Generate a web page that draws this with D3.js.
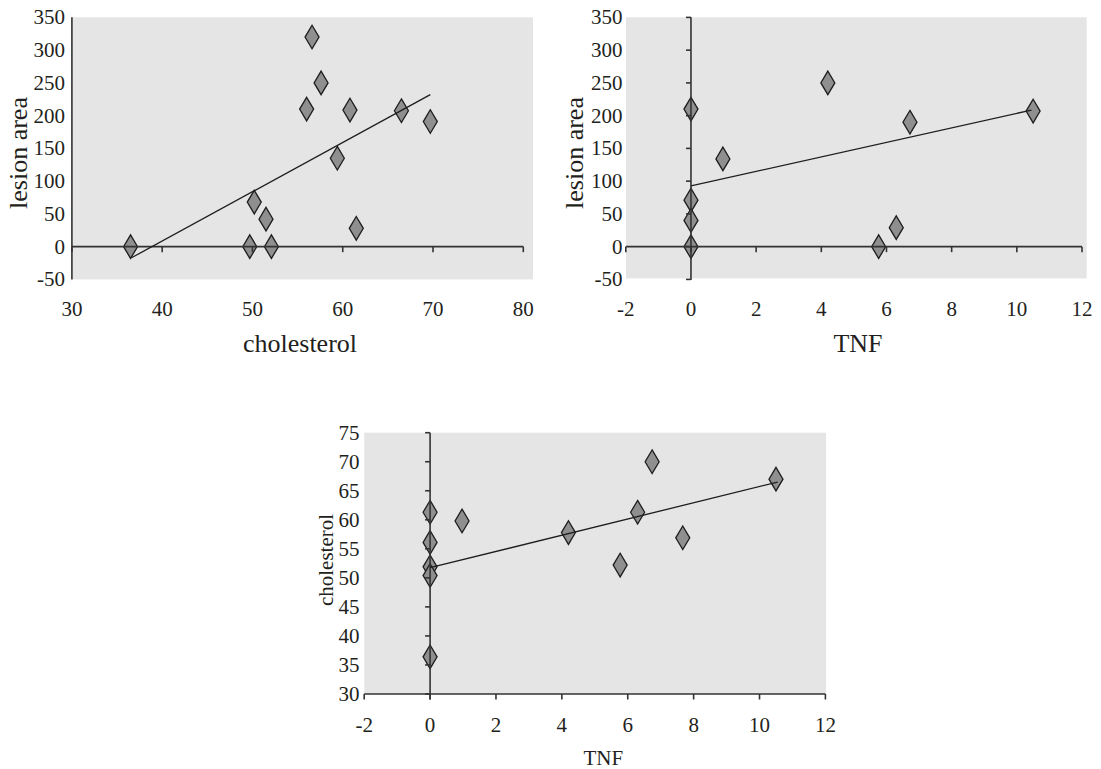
<!DOCTYPE html>
<html>
<head>
<meta charset="utf-8">
<script src="https://cdn.jsdelivr.net/npm/d3@7"></script>
<style>
  html, body { margin: 0; padding: 0; background: #ffffff; }
  svg { display: block; }
</style>
</head>
<body>
<svg id="chart" width="1101" height="769"></svg>
<script>
// ---------- data ----------
// Panel 1: lesion area vs cholesterol
const chol1   = [36.5, 56.6, 57.6, 56.0, 60.8, 66.5, 69.7, 59.4, 50.2, 51.5, 49.7, 52.1, 61.5];
const lesion1 = [0, 320, 250, 210, 208.5, 207.5, 191, 135, 68, 42, 0, 0, 28];
const trend1X = [36.6, 69.7];
const trend1Y = [-17, 232];

// Panel 2: lesion area vs TNF
const tnf2    = [0, 0, 0, 0, 0.98, 4.2, 6.72, 5.76, 6.3, 10.5];
const lesion2 = [210, 71, 40, 0, 134, 250, 190, 0, 29, 207];
const trend2X = [0, 10.45];
const trend2Y = [92.7, 208.5];

// Panel 3: cholesterol vs TNF
const tnf3    = [0, 0, 0, 0, 0, 0.97, 4.2, 5.77, 6.3, 6.74, 7.67, 10.5];
const chol3   = [61.3, 56.1, 51.9, 50.4, 36.4, 59.8, 57.8, 52.2, 61.3, 70.0, 56.9, 67.0];
const trend3X = [0, 10.55];
const trend3Y = [51.75, 66.5];

// tick labels
const lesionTicks = [-50, 0, 50, 100, 150, 200, 250, 300, 350];
const cholXTicks  = [30, 40, 50, 60, 70, 80];
const tnfTicks    = [-2, 0, 2, 4, 6, 8, 10, 12];
const cholYTicks  = [30, 35, 40, 45, 50, 55, 60, 65, 70, 75];

// ---------- drawing ----------
const FONT = "'Liberation Serif', 'Times New Roman', Times, 'DejaVu Serif', serif";
const TXT = "#231f20";
const svg = d3.select("#chart").attr("font-family", FONT);
const AX = "#333333";

function panel(o) {
  const g = svg.append("g");
  const x = d3.scaleLinear().domain(o.xDomain).range(o.xRange);
  const y = d3.scaleLinear().domain(o.yDomain).range(o.yRange);

  // plot area background
  g.append("rect")
    .attr("x", o.bg[0]).attr("y", o.bg[1])
    .attr("width", o.bg[2] - o.bg[0]).attr("height", o.bg[3] - o.bg[1])
    .attr("fill", "#e5e5e5");

  // markers
  const pts = o.xs.map((v, i) => [v, o.ys[i]]);
  g.append("g").selectAll("path").data(pts).join("path")
    .attr("transform", d => `translate(${x(d[0])},${y(d[1])})`)
    .attr("d", "M0,-11.8L7,0L0,11.8L-7,0Z")
    .attr("fill", "#8f8f8f")
    .attr("stroke", "#1e1e1e")
    .attr("stroke-width", 1.3)
    .attr("stroke-linejoin", "miter");

  // horizontal axis line (crossing at o.xCross)
  const ya = y(o.xCross);
  g.append("line")
    .attr("x1", x(o.xDomain[0])).attr("x2", x(o.xDomain[1]))
    .attr("y1", ya).attr("y2", ya)
    .attr("stroke", AX).attr("stroke-width", 1.6);
  g.append("g").selectAll("line").data(o.xTicks).join("line")
    .attr("x1", d => x(d)).attr("x2", d => x(d))
    .attr("y1", ya).attr("y2", ya + 5.5)
    .attr("stroke", AX).attr("stroke-width", 1.6);

  // vertical axis line (crossing at o.yCross)
  const xa = x(o.yCross);
  g.append("line")
    .attr("x1", xa).attr("x2", xa)
    .attr("y1", o.bg[1]).attr("y2", o.vBottom)
    .attr("stroke", AX).attr("stroke-width", 1.6);
  if (o.yTickMarks) {
    g.append("g").selectAll("line").data(o.yTicks).join("line")
      .attr("x1", xa - 5).attr("x2", xa)
      .attr("y1", d => y(d)).attr("y2", d => y(d))
      .attr("stroke", AX).attr("stroke-width", 1.6);
  }

  // trend line
  g.append("line")
    .attr("x1", x(o.trendX[0])).attr("y1", y(o.trendY[0]))
    .attr("x2", x(o.trendX[1])).attr("y2", y(o.trendY[1]))
    .attr("stroke", "#1e1e1e").attr("stroke-width", 1.3);

  // tick labels
  g.append("g").selectAll("text").data(o.xTicks).join("text")
    .attr("x", d => x(d)).attr("y", o.xLabelY)
    .attr("text-anchor", "middle").attr("dominant-baseline", "central")
    .attr("font-family", FONT).attr("fill", TXT)
    .attr("font-size", o.tickFont)
    .text(d => d);
  g.append("g").selectAll("text").data(o.yTicks).join("text")
    .attr("x", o.yLabelX).attr("y", d => y(d))
    .attr("text-anchor", "end").attr("dominant-baseline", "central")
    .attr("font-family", FONT).attr("fill", TXT)
    .attr("font-size", o.tickFont)
    .text(d => d);

  // axis titles
  g.append("text")
    .attr("x", o.xTitle[0]).attr("y", o.xTitle[1])
    .attr("text-anchor", "middle").attr("dominant-baseline", "central")
    .attr("font-family", FONT).attr("fill", TXT)
    .attr("font-size", o.titleFont)
    .text(o.xTitleText);
  g.append("text")
    .attr("transform", `translate(${o.yTitle[0]},${o.yTitle[1]}) rotate(-90)`)
    .attr("text-anchor", "middle").attr("dominant-baseline", "central")
    .attr("font-family", FONT).attr("fill", TXT)
    .attr("font-size", o.titleFont)
    .text(o.yTitleText);
}

panel({
  xs: chol1, ys: lesion1, trendX: trend1X, trendY: trend1Y,
  xDomain: [30, 80], xRange: [71.9, 523.3],
  yDomain: [-50, 350], yRange: [279.4, 17.4],
  bg: [71.9, 17.3, 533, 279.4], vBottom: 279.4,
  xCross: 0, yCross: 30, yTickMarks: false,
  xTicks: cholXTicks, yTicks: lesionTicks,
  xLabelY: 309, yLabelX: 65, tickFont: 21,
  xTitle: [300, 343], yTitle: [18, 153], titleFont: 26,
  xTitleText: "cholesterol", yTitleText: "lesion area"
});

panel({
  xs: tnf2, ys: lesion2, trendX: trend2X, trendY: trend2Y,
  xDomain: [-2, 12], xRange: [625.8, 1082],
  yDomain: [-50, 350], yRange: [279.4, 17.4],
  bg: [626, 17.3, 1086.7, 278.4], vBottom: 280,
  xCross: 0, yCross: 0, yTickMarks: true,
  xTicks: tnfTicks, yTicks: lesionTicks,
  xLabelY: 308.5, yLabelX: 622.5, tickFont: 21,
  xTitle: [858, 343], yTitle: [574, 153], titleFont: 26,
  xTitleText: "TNF", yTitleText: "lesion area"
});

panel({
  xs: tnf3, ys: chol3, trendX: trend3X, trendY: trend3Y,
  xDomain: [-2, 12], xRange: [364.2, 825.4],
  yDomain: [30, 75], yRange: [694, 432.7],
  bg: [364.2, 432.7, 826.1, 694], vBottom: 699.5,
  xCross: 30, yCross: 0, yTickMarks: true,
  xTicks: tnfTicks, yTicks: cholYTicks,
  xLabelY: 725, yLabelX: 359.6, tickFont: 21,
  xTitle: [603.4, 758.3], yTitle: [326.3, 560], titleFont: 21,
  xTitleText: "TNF", yTitleText: "cholesterol"
});
</script>
</body>
</html>
